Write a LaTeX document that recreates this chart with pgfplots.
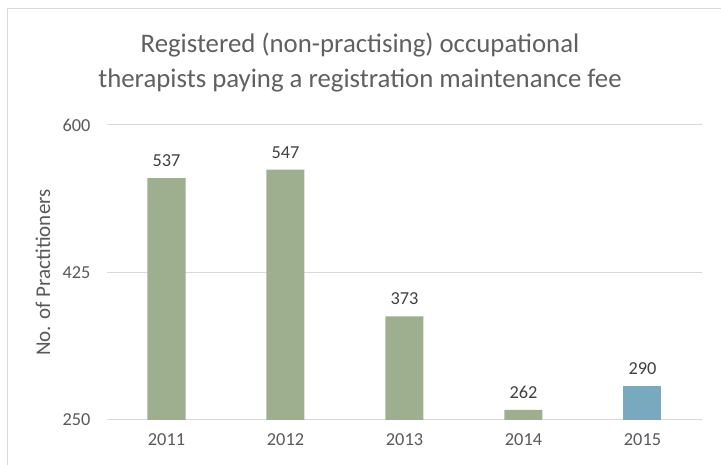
\documentclass[border=0pt]{standalone}
\usepackage{pgfplots}
\pgfplotsset{compat=1.18}
\usepackage{fontspec}
\setmainfont{Carlito}
\definecolor{bargreen}{HTML}{9DAF8E}
\definecolor{barblue}{HTML}{78A9BE}
\definecolor{gridc}{HTML}{D9D9D9}
\definecolor{txt}{HTML}{595959}
\definecolor{ttxt}{HTML}{606060}
\definecolor{dtxt}{HTML}{404040}
\begin{document}
\begin{tikzpicture}
\useasboundingbox (0pt,0pt) rectangle (721pt,465pt);
\draw[gridc, line width=1pt] (7pt,0pt) -- (7pt,456pt) -- (721pt,456pt);
\node[ttxt, align=center, font=\fontsize{26.8}{35}\selectfont] at (360pt,402pt) {Registered (non-practising) occupational\\therapists paying a registration maintenance fee};
\begin{axis}[
  at={(107pt,45pt)}, anchor=south west,
  scale only axis, width=595pt, height=295pt,
  xmin=-0.5, xmax=4.5, ymin=250, ymax=600,
  ytick={250,425,600},
  xtick={0,1,2,3,4},
  xticklabels={2011,2012,2013,2014,2015},
  axis line style={draw=none},
  major tick length=0pt,
  ymajorgrids, grid style={gridc, line width=1pt},
  ybar, bar width=38pt, bar shift=0pt,
  /pgf/number format/assume math mode=true,
  /pgf/number format/1000 sep={},
  tick label style={txt, font=\fontsize{18.3}{21}\selectfont},
  yticklabel style={xshift=-13pt},
  xticklabel style={yshift=-10pt},
  every axis y label/.style={at={(axis description cs:-0.1076,0.5)}, rotate=90, anchor=center, txt, font=\fontsize{21}{24}\selectfont},
  ylabel={No. of Practitioners},
  nodes near coords,
  nodes near coords style={dtxt, font=\fontsize{18.3}{21}\selectfont, yshift=8pt},
  clip=false,
]
\addplot[fill=bargreen, draw=none] coordinates {(0,537) (1,547) (2,373) (3,262)};
\addplot[fill=barblue, draw=none] coordinates {(4,290)};
\end{axis}
\end{tikzpicture}
\end{document}
